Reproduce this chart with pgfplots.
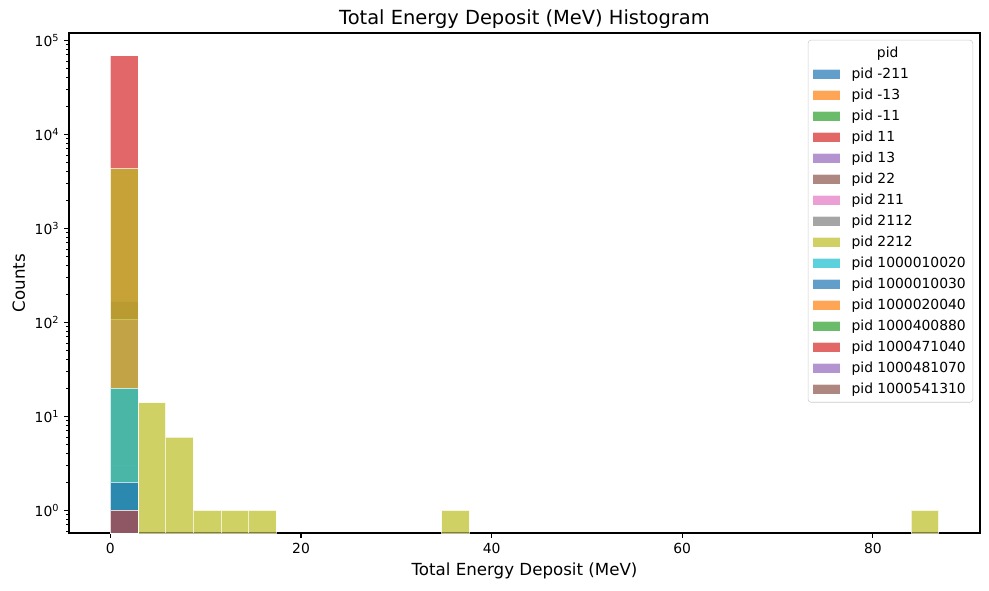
\documentclass[border=0pt]{standalone}
\usepackage{fontspec}
\setmainfont{DejaVu Sans}
\usepackage{pgfplots}
\pgfplotsset{compat=1.18}

\definecolor{tabblue}{HTML}{1F77B4}
\definecolor{taborange}{HTML}{FF7F0E}
\definecolor{tabgreen}{HTML}{2CA02C}
\definecolor{tabred}{HTML}{D62728}
\definecolor{tabpurple}{HTML}{9467BD}
\definecolor{tabbrown}{HTML}{8C564B}
\definecolor{tabpink}{HTML}{E377C2}
\definecolor{tabgray}{HTML}{7F7F7F}
\definecolor{tabolive}{HTML}{BCBD22}
\definecolor{tabcyan}{HTML}{17BECF}

\pgfplotsset{
  h/.style={ybar, bar width=2.897, bar shift=0pt, fill=#1, draw=white,
    fill opacity=0.7, draw opacity=0.7, line width=0.5pt,
    legend image code/.code={\draw[##1, sharp corners] (0pt,-3.6pt) rectangle (20pt,3.6pt);
      \path[draw=none, fill=none] (0pt,0pt) -- (26pt,0pt);}},
}

\begin{document}
\begin{tikzpicture}[font=\fontsize{10}{12}\selectfont]
\begin{axis}[
    scale only axis, width=655.92pt, height=360pt,
    xmin=-4.345, xmax=91.245,
    ymode=log, log basis y=10, ymin=0.573, ymax=119400,
    log origin=infty,
    xtick={0,20,40,60,80},
    ytick={1,10,100,1000,10000,100000},
    yticklabels={10\textsuperscript{0},10\textsuperscript{1},10\textsuperscript{2},10\textsuperscript{3},10\textsuperscript{4},10\textsuperscript{5}},
    minor ytick={0.6,0.7,0.8,0.9,2,3,4,5,6,7,8,9,20,30,40,50,60,70,80,90,200,300,400,500,600,700,800,900,2000,3000,4000,5000,6000,7000,8000,9000,20000,30000,40000,50000,60000,70000,80000,90000},
    /pgf/number format/assume math mode=true,
    tick align=outside, tick pos=left,
    major tick length=3.5pt, minor tick length=2pt,
    every major tick/.append style={black, line width=0.8pt},
    every minor tick/.append style={black, line width=0.6pt},
    axis line style={line width=0.8pt},
    ticklabel style={font=\fontsize{10}{12}\selectfont},
    title={Total Energy Deposit (MeV) Histogram},
    title style={font=\fontsize{14}{17}\selectfont, yshift=-6pt},
    xlabel={Total Energy Deposit (MeV)},
    ylabel={Counts},
    label style={font=\fontsize{12}{14}\selectfont},
    legend cell align=left,
    legend style={at={(1,1)}, anchor=north east, xshift=-5pt, yshift=-5pt,
      draw=black!20, rounded corners=2pt, fill=white, fill opacity=0.8, text opacity=1,
      font=\fontsize{10}{12}\selectfont, row sep=0pt,
      nodes={inner ysep=3pt}, inner xsep=3pt},
]
\coordinate (SW) at (rel axis cs:0,0);
\coordinate (NE) at (rel axis cs:1,1);

\addlegendimage{empty legend}
\addlegendentry{\hspace*{26pt}\makebox[0pt]{pid}}

% pid -211
\addplot[h=tabblue] coordinates {(1.4485,167)};
\addlegendentry{pid -211}
\addlegendimage{h=taborange}
\addlegendentry{pid -13}
\addlegendimage{h=tabgreen}
\addlegendentry{pid -11}
% pid 11
\addplot[h=tabred] coordinates {(1.4485,68400)};
\addlegendentry{pid 11}
% pid 13
\addplot[h=tabpurple] coordinates {(1.4485,3)};
\addlegendentry{pid 13}
\addlegendimage{h=tabbrown}
\addlegendentry{pid 22}
% pid 211
\addplot[h=tabpink] coordinates {(1.4485,108)};
\addlegendentry{pid 211}
\addlegendimage{h=tabgray}
\addlegendentry{pid 2112}
% pid 2212
\addplot[h=tabolive] coordinates {
  (1.4485,4300) (4.3455,14) (7.2425,6) (10.1395,1) (13.0365,1) (15.9335,1)
  (36.2125,1) (85.4615,1)};
\addlegendentry{pid 2212}
% pid 1000010020
\addplot[h=tabcyan] coordinates {(1.4485,20)};
\addlegendentry{pid 1000010020}
% pid 1000010030
\addplot[h=tabblue] coordinates {(1.4485,2)};
\addlegendentry{pid 1000010030}
\addlegendimage{h=taborange}
\addlegendentry{pid 1000020040}
\addlegendimage{h=tabgreen}
\addlegendentry{pid 1000400880}
% heavy ions
\addplot[h=tabred] coordinates {(1.4485,1)};
\addlegendentry{pid 1000471040}
\addplot[h=tabpurple] coordinates {(1.4485,1)};
\addlegendentry{pid 1000481070}
\addplot[h=tabbrown] coordinates {(1.4485,1)};
\addlegendentry{pid 1000541310}
\end{axis}
\pgfresetboundingbox
\path (SW) ++(-49.68pt,-41.04pt) rectangle ([xshift=6.48pt,yshift=23.76pt]NE);
\end{tikzpicture}
\end{document}
